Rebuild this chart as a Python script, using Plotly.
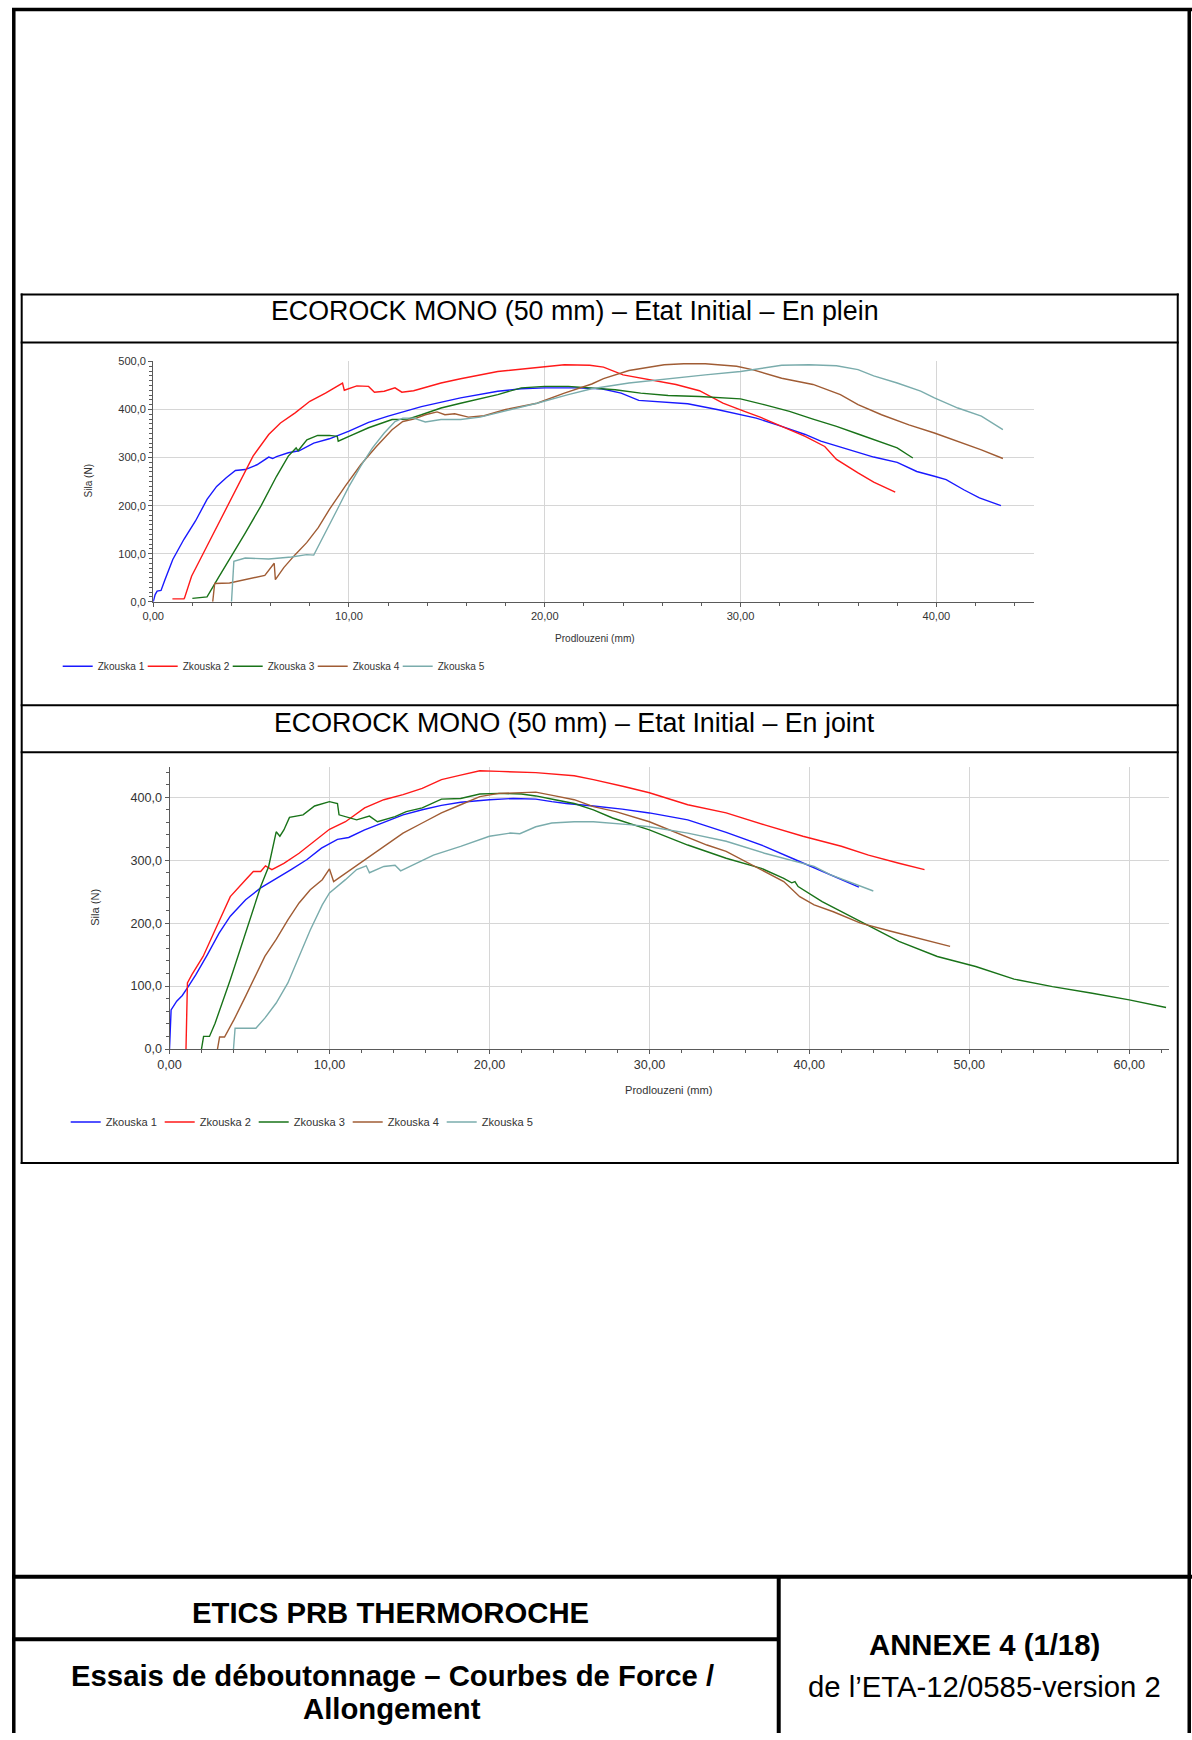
import plotly.graph_objects as go

W, H = 1192, 1740
FONT = "Liberation Sans"
# the photographed page comes out slightly offset and scaled; positions below are given in
# reference-page pixels and mapped back through this correction
CX, SX = 11.3, 0.9899
CY, SY = 5.4, 0.9931

# ---------------- data: chart 1 (En plein) ----------------
series_names = ["Zkouska 1", "Zkouska 2", "Zkouska 3", "Zkouska 4", "Zkouska 5"]
series_colors = ["rgb(25,25,255)", "rgb(255,25,25)", "rgb(25,115,25)", "rgb(160,92,52)", "rgb(122,172,172)"]

p_z1_x = [0, 0.1, 0.2, 0.4, 0.6, 1.0, 1.57, 2.16, 2.75, 3.24, 3.73, 4.2, 4.7, 5.3, 5.9, 6.1, 6.3, 6.9, 7.45, 8.2, 9.0, 10, 11, 12, 13.7, 15.7, 17.6, 18.8, 20, 21.6, 22.9, 23.9, 24.8, 27.3, 28.8, 30, 30.8, 32.1, 33.3, 34.1, 35.1, 36.0, 36.8, 38.0, 39.0, 39.9, 40.5, 41.4, 42.2, 43.3]
p_z1_y = [0, 15, 22, 23.5, 46, 88, 130, 168, 213, 240, 258, 273, 275, 285, 301, 298, 302, 310, 314, 330, 339, 355, 373, 386, 406, 424, 438, 443, 445, 445, 443, 434, 419, 412, 400, 389, 382, 365, 348, 334, 322, 310, 301, 290, 271, 261, 254, 233, 216, 200]

p_z2_x = [0.98, 1.57, 1.6, 1.96, 2.75, 3.53, 4.3, 5.1, 5.9, 6.5, 7.25, 8.0, 8.8, 9.67, 9.76, 10.4, 11.0, 11.3, 11.8, 12.35, 12.7, 13.3, 14.7, 15.7, 17.6, 19.6, 21.0, 22.3, 23.0, 24.0, 25.2, 26.7, 27.9, 29.1, 30.2, 31.0, 32.1, 33.3, 34.3, 34.9, 36.0, 36.8, 37.9]
p_z2_y = [6, 6, 8, 53, 116, 178, 240, 303, 348, 372, 393, 417, 434, 455, 440, 449, 448, 436, 438, 445, 436, 439, 455, 464, 479, 488, 493, 492, 488, 472, 463, 452, 439, 413, 396, 384, 365, 344, 323, 296, 268, 249, 228]

p_z3_x = [2.0, 2.75, 3.33, 3.9, 4.7, 5.5, 6.3, 6.9, 7.3, 7.4, 7.85, 8.4, 9.0, 9.4, 9.45, 10, 11, 12.2, 13, 13.7, 14.7, 15.7, 17.6, 18.8, 20, 21.2, 22.4, 23.6, 24.9, 26.3, 27.9, 30, 31.2, 32.5, 33.7, 34.9, 36, 37, 38, 38.8]
p_z3_y = [7, 10, 50, 88, 143, 199, 261, 303, 320, 314, 337, 346, 346, 344, 334, 344, 362, 379, 380, 389, 403, 413, 431, 445, 448, 448, 445, 441, 434, 429, 427, 422, 410, 396, 380, 365, 349, 335, 320, 299]

p_z4_x = [3.04, 3.14, 3.9, 4.9, 5.7, 6.18, 6.24, 6.67, 7.25, 7.84, 8.43, 9.0, 9.8, 10.6, 11.4, 12.2, 12.75, 13.3, 13.9, 14.5, 14.9, 15.4, 16.1, 16.9, 18.0, 19.6, 21.0, 22.4, 23.0, 24.3, 26.1, 27.1, 28.2, 29.8, 30.6, 32.1, 33.7, 35.1, 36.0, 37.2, 38.6, 39.9, 41.1, 42.3, 43.4]
p_z4_y = [0, 38, 39, 48, 55, 80, 46, 71, 98, 123, 154, 192, 240, 285, 323, 358, 375, 380, 389, 395, 389, 391, 384, 387, 400, 413, 434, 453, 464, 481, 493, 495, 495, 490, 483, 465, 452, 431, 410, 389, 368, 351, 334, 316, 298]

p_z5_x = [4.0, 4.12, 4.7, 5.9, 7.06, 7.84, 8.2, 8.8, 9.4, 10, 10.6, 11.2, 11.8, 12.35, 12.75, 13.3, 13.9, 14.7, 15.7, 16.7, 17.6, 19.6, 21.2, 22.4, 24.3, 26.3, 28.2, 30, 31.2, 32.1, 33.5, 34.9, 36, 36.8, 38, 39.2, 39.9, 41.1, 42.3, 43.4]
p_z5_y = [0, 84, 91, 89, 93, 98, 97, 143, 192, 240, 282, 320, 351, 375, 382, 382, 374, 379, 379, 384, 393, 413, 431, 443, 455, 464, 472, 479, 486, 492, 493, 491, 483, 470, 455, 438, 424, 403, 386, 358]

# ---------------- data: chart 2 (En joint) ----------------
j_z1_x = [0, 0.1, 0.45, 0.8, 1.17, 1.65, 2.37, 3.1, 3.8, 4.76, 5.7, 6.7, 7.6, 8.6, 9.5, 10.5, 11.2, 12.2, 13.4, 14.6, 15.8, 17, 18.2, 20, 21.5, 22.9, 23.9, 24.8, 26.5, 28.3, 30, 32.4, 34.8, 37.2, 39.1, 40.3, 42, 43.1]
j_z1_y = [0, 62, 76, 85, 99, 118, 150, 184, 211, 237, 256, 271, 285, 301, 319, 333, 336, 348, 360, 372, 380, 387, 392, 396, 398, 397, 393, 390, 386, 381, 375, 364, 344, 322, 301, 288, 269, 257]

j_z2_x = [1.03, 1.12, 1.4, 2.1, 2.85, 3.8, 4.76, 5.24, 5.7, 6.0, 6.4, 7.15, 8.1, 9.07, 10, 11, 12.2, 13.4, 14.6, 15.8, 17, 18.2, 19.4, 20.6, 22.9, 25.3, 26.5, 28.4, 30, 32.4, 34.8, 37.2, 39.6, 42, 43.7, 45.6, 47.2]
j_z2_y = [0, 105, 118, 147, 189, 242, 269, 282, 282, 291, 285, 295, 311, 330, 349, 361, 383, 396, 404, 414, 428, 435, 442, 441, 439, 434, 428, 417, 407, 388, 375, 356, 338, 322, 308, 295, 285]

j_z3_x = [2.0, 2.13, 2.5, 2.85, 3.8, 4.76, 5.7, 6.2, 6.67, 6.9, 7.15, 7.5, 8.35, 9.07, 10, 10.5, 10.6, 11.7, 12.5, 13.0, 14.1, 14.8, 15.8, 17, 18.2, 19.4, 20.6, 22, 22.9, 24.1, 25.3, 26.5, 27.7, 30, 32.4, 34.8, 37, 38.4, 38.9, 39.1, 39.3, 40.8, 43.2, 45.6, 48, 50.4, 52.8, 55.2, 57.6, 60, 62.3]
j_z3_y = [0, 20, 20, 41, 110, 184, 258, 290, 345, 338, 348, 368, 372, 386, 393, 390, 372, 364, 370, 361, 369, 377, 383, 397, 398, 405, 406, 405, 402, 396, 390, 380, 367, 348, 324, 303, 287, 271, 264, 266, 258, 234, 203, 171, 147, 131, 111, 99, 89, 78, 66]

j_z4_x = [3.0, 3.13, 3.44, 4.04, 4.76, 5.48, 5.96, 6.67, 7.4, 8.1, 8.8, 9.55, 10, 10.26, 11, 12.2, 13.4, 14.6, 15.8, 17, 18.2, 19.4, 20.6, 22.9, 24.1, 25.3, 26.5, 27.9, 30, 31, 32.4, 33.6, 34.8, 36, 37.2, 38.4, 39.4, 40.3, 41.5, 43.2, 45.1, 46.8, 48.8]
j_z4_y = [0, 19, 19, 47, 84, 121, 147, 174, 205, 232, 253, 269, 286, 266, 279, 301, 322, 343, 359, 375, 388, 401, 406, 408, 402, 396, 385, 377, 361, 351, 337, 324, 314, 298, 282, 266, 242, 229, 218, 200, 187, 176, 163]

j_z5_x = [4.0, 4.1, 4.76, 5.4, 5.96, 6.67, 7.4, 8.1, 8.8, 9.55, 10, 11, 11.7, 12.3, 12.5, 13.4, 14.1, 14.45, 15.3, 16.5, 18.2, 20, 21.3, 21.9, 22.9, 23.9, 25.3, 26.5, 28.9, 30, 32.4, 34.8, 37.2, 39.1, 40.3, 41.3, 42.7, 44.0]
j_z5_y = [0, 33, 33, 33, 49, 73, 105, 147, 189, 229, 248, 269, 285, 291, 280, 290, 292, 283, 293, 308, 322, 338, 343, 342, 353, 359, 361, 361, 356, 353, 343, 330, 311, 298, 290, 277, 263, 251]

# ---------------- texts ----------------
title_1 = "ECOROCK MONO (50 mm) – Etat Initial – En plein"
title_2 = "ECOROCK MONO (50 mm) – Etat Initial – En joint"
y_title = "Sila (N)"
x_title = "Prodlouzeni (mm)"
footer_1 = "ETICS PRB THERMOROCHE"
footer_2a = "Essais de déboutonnage – Courbes de Force /"
footer_2b = "Allongement"
footer_3a = "ANNEXE 4 (1/18)"
footer_3b = "de l’ETA-12/0585-version 2"


def px(x):
    # reference-page pixel -> paper fraction
    return max(0.0, min(1.0, (x - CX) / SX / W))


def py(y):
    return max(0.0, min(1.0, 1 - (y - CY) / SY / H))


def fs(size):
    return round(size / SX, 1)


plein = [(p_z1_x, p_z1_y), (p_z2_x, p_z2_y), (p_z3_x, p_z3_y), (p_z4_x, p_z4_y), (p_z5_x, p_z5_y)]
joint = [(j_z1_x, j_z1_y), (j_z2_x, j_z2_y), (j_z3_x, j_z3_y), (j_z4_x, j_z4_y), (j_z5_x, j_z5_y)]

fig = go.Figure()
for i, ((xs, ys), name, col) in enumerate(zip(plein, series_names, series_colors)):
    fig.add_trace(go.Scatter(x=xs, y=ys, mode="lines", name=name, line=dict(color=col, width=1.4),
                             xaxis="x", yaxis="y", legend="legend",
                             legendwidth=(50 if i == len(plein) - 1 else None)))
for (xs, ys), name, col in zip(joint, series_names, series_colors):
    fig.add_trace(go.Scatter(x=xs, y=ys, mode="lines", name=name, line=dict(color=col, width=1.4),
                             xaxis="x2", yaxis="y2", legend="legend2"))

AX = "#5a5a5a"
GRID = "#d6d6d6"
TICK = "#333333"


def axis(domain, rng, dtick, minor, fmt, size, anchor):
    return dict(domain=domain, range=rng, dtick=dtick, tick0=0, tickformat=fmt,
                showgrid=True, gridcolor=GRID, gridwidth=1, zeroline=False,
                showline=True, linecolor=AX, linewidth=1,
                ticks="outside", ticklen=4, tickcolor=AX, tickwidth=1,
                minor=dict(dtick=minor, tick0=0, ticks="outside", ticklen=3, tickcolor=AX, showgrid=False),
                tickfont=dict(family=FONT, size=fs(size), color=TICK), anchor=anchor, fixedrange=True)


layout = dict(
    width=W, height=H, margin=dict(l=0, r=0, t=0, b=0),
    paper_bgcolor="white", plot_bgcolor="white", separators=", ",
    font=dict(family=FONT, color="black"),
    xaxis=axis([px(152.5), px(1033.5)], [0, 45], 10, 2, ".2f", 11, "y"),
    yaxis=axis([py(601.5), py(361)], [0, 500], 100, 10, ".1f", 11, "x"),
    xaxis2=axis([px(168.8), px(1168.5)], [0, 62.5], 10, 2, ".2f", 12.5, "y2"),
    yaxis2=axis([py(1049), py(766.5)], [0, 448.5], 100, 20, ".1f", 12.5, "x2"),
    legend=dict(orientation="h", x=px(57), y=py(666), xanchor="left", yanchor="middle",
                font=dict(family=FONT, size=fs(10), color=TICK), entrywidth=40, entrywidthmode="pixels",
                bgcolor="rgba(0,0,0,0)", borderwidth=0, itemclick=False, itemdoubleclick=False),
    legend2=dict(orientation="h", x=px(65), y=py(1122), xanchor="left", yanchor="middle",
                 font=dict(family=FONT, size=fs(11), color=TICK), entrywidth=49, entrywidthmode="pixels",
                 bgcolor="rgba(0,0,0,0)", borderwidth=0, itemclick=False, itemdoubleclick=False),
    showlegend=True,
)
fig.update_layout(**layout)


def hline(y, x0, x1, w):
    fig.add_shape(type="line", xref="paper", yref="paper", x0=px(x0), x1=px(x1), y0=py(y), y1=py(y),
                  line=dict(color="black", width=w))


def vline(x, y0, y1, w):
    fig.add_shape(type="line", xref="paper", yref="paper", x0=x, x1=x, y0=py(y0), y1=py(y1),
                  line=dict(color="black", width=w))


# page frame
hline(9, 0, 1192, 3.5)
vline(1.8 / W, 7.5, 1745, 3.5)
vline(px(1188.5), 7.5, 1745, 3.5)
# chart table
hline(294, 20, 1178, 2)
hline(342, 20, 1178, 2)
hline(705, 20, 1178, 2)
hline(752, 20, 1178, 2)
hline(1163, 20, 1178, 2)
vline(px(21), 293, 1164, 2)
vline(px(1177), 293, 1164, 2)
# footer
hline(1577, 0, 1192, 4)
hline(1639.5, 0, 778, 4)
vline(px(778), 1577, 1745, 4)


def text(x, y, s, size, bold=False, angle=0, color="black"):
    fig.add_annotation(xref="paper", yref="paper", x=px(x), y=py(y), text=("<b>%s</b>" % s) if bold else s,
                       showarrow=False, xanchor="center", yanchor="middle", textangle=angle,
                       font=dict(family=FONT, size=fs(size), color=color))


text(574, 311, title_1, 26.5)
text(574, 722.5, title_2, 26.5)
text(87.5, 480, y_title, 10, angle=-90, color=TICK)
text(594, 638, x_title, 10, color=TICK)
text(94, 907, y_title, 11, angle=-90, color=TICK)
text(668, 1090, x_title, 11, color=TICK)
text(390, 1613, footer_1, 29, bold=True)
text(391.5, 1676, footer_2a, 29, bold=True)
text(391.5, 1709, footer_2b, 29, bold=True)
text(984, 1645, footer_3a, 29, bold=True)
text(984, 1687, footer_3b, 29)

fig.write_html("out.html", config={"displayModeBar": False, "responsive": False})
